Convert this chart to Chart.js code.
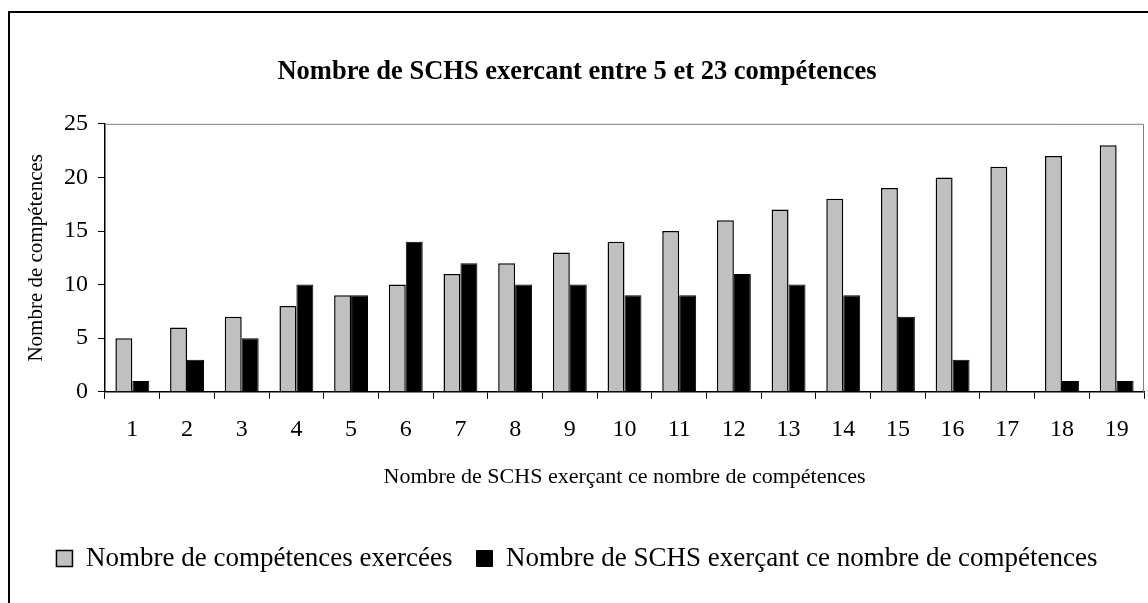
<!DOCTYPE html>
<html>
<head>
<meta charset="utf-8">
<script src="https://cdn.jsdelivr.net/npm/chart.js@4"></script>
<style>
  html, body { margin: 0; padding: 0; background: #fff; }
  #wrap { position: relative; width: 1148px; height: 603px; }
  #frame {
    position: absolute; left: 8px; top: 11px; width: 1200px; height: 700px;
    border-left: 2px solid #000; border-top: 2px solid #000; pointer-events: none;
  }
</style>
</head>
<body>
<div id="wrap">
  <canvas id="schsChart"></canvas>
  <div id="frame"></div>
</div>
<script>
// categories (x axis) and series
const categories = ['1','2','3','4','5','6','7','8','9','10','11','12','13','14','15','16','17','18','19'];
const competencesExercees = [5, 6, 7, 8, 9, 10, 11, 12, 13, 14, 15, 16, 17, 18, 19, 20, 21, 22, 23];
const schsExercant = [1, 3, 5, 10, 9, 14, 12, 10, 10, 9, 9, 11, 10, 9, 7, 3, 0, 1, 1];
const yTicks = [0, 5, 10, 15, 20, 25];

const serif = "'Liberation Serif', 'Times New Roman', serif";

// grey top/right border of the plot area
const plotFrame = {
    id: 'plotFrame',
    afterDraw(chart) {
        const { ctx, chartArea: a } = chart;
        ctx.save();
        ctx.strokeStyle = '#808080';
        ctx.lineWidth = 1;
        ctx.beginPath();
        ctx.moveTo(a.left, a.top + 0.5);
        ctx.lineTo(a.right - 0.5, a.top + 0.5);
        ctx.lineTo(a.right - 0.5, a.bottom);
        ctx.stroke();
        ctx.restore();
    }
};

const ctx = document.getElementById('schsChart').getContext('2d');

new Chart(ctx, {
    type: 'bar',
    data: {
        labels: categories,
        datasets: [{
            label: 'Nombre de compétences exercées',
            data: competencesExercees,
            backgroundColor: '#C0C0C0',
            borderColor: '#000',
            borderWidth: 1.5,
            categoryPercentage: 0.62,
            barPercentage: 1
        }, {
            label: 'Nombre de SCHS exerçant ce nombre de compétences',
            data: schsExercant,
            backgroundColor: '#000',
            borderColor: '#000',
            borderWidth: 1,
            categoryPercentage: 0.62,
            barPercentage: 1
        }]
    },
    options: {
        responsive: true,
        maintainAspectRatio: false,
        animation: false,
        layout: { padding: { left: 10, right: 4, top: 0, bottom: 21 } },
        plugins: {
            title: {
                display: true,
                text: 'Nombre de SCHS exercant entre 5 et 23 compétences',
                color: '#000',
                font: { family: serif, size: 26.5, weight: 'bold' },
                padding: { top: 56, bottom: 36 }
            },
            legend: {
                position: 'bottom',
                labels: {
                    color: '#000',
                    font: { family: serif, size: 27 },
                    boxWidth: 16,
                    boxHeight: 16,
                    padding: 24
                }
            },
            tooltip: { enabled: false }
        },
        scales: {
            x: {
                grid: { drawOnChartArea: false, tickLength: 7, color: '#000' },
                border: { color: '#000', width: 1.5 },
                ticks: { color: '#000', font: { family: serif, size: 24 }, padding: 17, maxRotation: 0 },
                title: {
                    display: true,
                    text: 'Nombre de SCHS exerçant ce nombre de compétences',
                    color: '#000',
                    font: { family: serif, size: 22 },
                    padding: { top: 2, bottom: 31 }
                }
            },
            y: {
                min: 0,
                max: 25,
                afterFit(scale) { scale.width = 95; },
                afterBuildTicks(scale) { scale.ticks = yTicks.map(v => ({ value: v })); },
                grid: { drawOnChartArea: false, tickLength: 7, color: '#000' },
                border: { color: '#000', width: 1.5 },
                ticks: { color: '#000', font: { family: serif, size: 24 }, padding: 10 },
                title: {
                    display: true,
                    text: 'Nombre de compétences',
                    color: '#000',
                    font: { family: serif, size: 21 },
                    padding: { top: 14, bottom: 0 }
                }
            }
        }
    },
    plugins: [plotFrame]
});
</script>
</body>
</html>
